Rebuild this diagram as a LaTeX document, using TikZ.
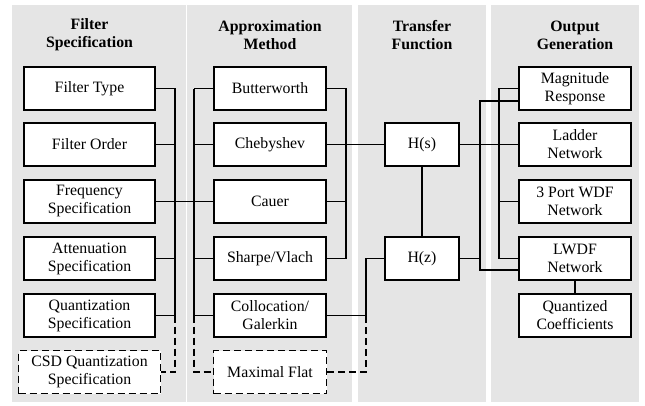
\documentclass[tikz,border=0pt]{standalone}
\usepackage{fontspec}
\setmainfont{Liberation Serif}

\begin{document}
\begin{tikzpicture}[x=1pt, y=-1pt,
    box/.style={draw, line width=1.8pt, fill=white, align=center,
      minimum height=43, inner sep=1pt, font=\fontsize{15.8}{18}\selectfont},
    dbox/.style={box, line width=1.2pt, dash pattern=on 7pt off 4pt},
    head/.style={align=center, font=\fontsize{15.8}{18}\selectfont\bfseries},
    wire/.style={line width=1.3pt},
    dwire/.style={wire, dash pattern=on 7pt off 4pt}]
  \useasboundingbox (0,0) rectangle (645,405);

  % --- panels ---
  \fill[black!10] (12,5) rectangle (185.5,402);
  \fill[black!10] (186.5,5) rectangle (352,402);
  \fill[black!10] (358,5) rectangle (486,402);
  \fill[black!10] (491,5) rectangle (639,402);

  % --- headings ---
  \node[head] (t1) at (89.5,35) {Filter\\Specification};
  \node[head] (t2) at (270,35) {Approximation\\Method};
  \node[head] (t3) at (422,35) {Transfer\\Function};
  \node[head] (t4) at (575,35) {Output\\Generation};

  % --- filter specification ---
  \node[box, minimum width=131] (ftype) at (89.5,88.5) {Filter Type};
  \node[box, minimum width=131] (forder) at (89.5,144.5) {Filter Order};
  \node[box, minimum width=131] (freq) at (89.5,201.5) {Frequency\\Specification};
  \node[box, minimum width=131] (atten) at (89.5,258.5) {Attenuation\\Specification};
  \node[box, minimum width=131] (quant) at (89.5,315.5) {Quantization\\Specification};
  \node[dbox, minimum width=142] (csd) at (89.5,372) {CSD Quantization\\Specification};

  % --- approximation method ---
  \node[box, minimum width=112] (butter) at (270,88.5) {Butterworth};
  \node[box, minimum width=112] (cheby) at (270,144.5) {Chebyshev};
  \node[box, minimum width=112] (cauer) at (270,201.5) {Cauer};
  \node[box, minimum width=112] (sharpe) at (270,258.5) {Sharpe/Vlach};
  \node[box, minimum width=112] (colloc) at (270,315.5) {Collocation/\\Galerkin};
  \node[dbox, minimum width=113] (maxflat) at (270,372) {Maximal Flat};

  % --- transfer function ---
  \node[box, minimum width=74] (hs) at (422,144.5) {H(s)};
  \node[box, minimum width=74] (hz) at (422,258.5) {H(z)};

  % --- output generation ---
  \node[box, minimum width=112] (mag) at (575,88.5) {Magnitude\\Response};
  \node[box, minimum width=112] (ladder) at (575,144.5) {Ladder\\Network};
  \node[box, minimum width=112] (wdf) at (575,201.5) {3 Port WDF\\Network};
  \node[box, minimum width=112] (lwdf) at (575,258.5) {LWDF\\Network};
  \node[box, minimum width=112] (qcoef) at (575,315.5) {Quantized\\Coefficients};

  % bus positions
  \coordinate (b1) at (175,0);
  \coordinate (b2) at (194,0);
  \coordinate (b3) at (346,0);
  \coordinate (b4) at (366,0);
  \coordinate (bA) at (480,0);
  \coordinate (bB) at (499,0);

  % --- connectors ---
  \draw[wire] (ftype.east) -- (ftype.east -| b1) -- (quant.east -| b1);
  \foreach \n in {forder,atten,quant} \draw[wire] (\n.east) -- (\n.east -| b1);
  \draw[wire] (freq.east) -- (freq.east -| b2);
  \draw[dwire] (quant.east -| b1) -- (csd.east -| b1) -- (csd.east);

  \draw[wire] (butter.west -| b2) -- (colloc.west -| b2);
  \foreach \n in {butter,cheby,cauer,sharpe,colloc} \draw[wire] (\n.west) -- (\n.west -| b2);
  \draw[dwire] (colloc.west -| b2) -- (maxflat.west -| b2) -- (maxflat.west);

  \draw[wire] (butter.east) -- (butter.east -| b3) -- (sharpe.east -| b3);
  \foreach \n in {cauer,sharpe} \draw[wire] (\n.east) -- (\n.east -| b3);
  \draw[wire] (cheby.east) -- (hs.west);
  \draw[wire] (colloc.east) -- (colloc.east -| b4) -- (hz.west -| b4) -- (hz.west);
  \draw[dwire] (maxflat.east) -- (maxflat.east -| b4) -- (colloc.east -| b4);

  \draw[wire] (hs.south) -- (hz.north);
  \draw[wire] (hs.east) -- (ladder.west);

  \coordinate (mA) at ([yshift=-12.5pt]mag.west);
  \coordinate (lA) at ([yshift=-11.5pt]lwdf.west);
  \draw[wire] (mA) -- (mA -| bA) -- (lA -| bA) -- (lA);
  \draw[wire] (hz.east) -- (hz.east -| bA);
  \draw[wire] (mag.west) -- (mag.west -| bB) -- (lwdf.west -| bB) -- (lwdf.west);
  \draw[wire] (wdf.west) -- (wdf.west -| bB);
  \draw[wire] (lwdf.south) -- (qcoef.north);
\end{tikzpicture}
\end{document}
